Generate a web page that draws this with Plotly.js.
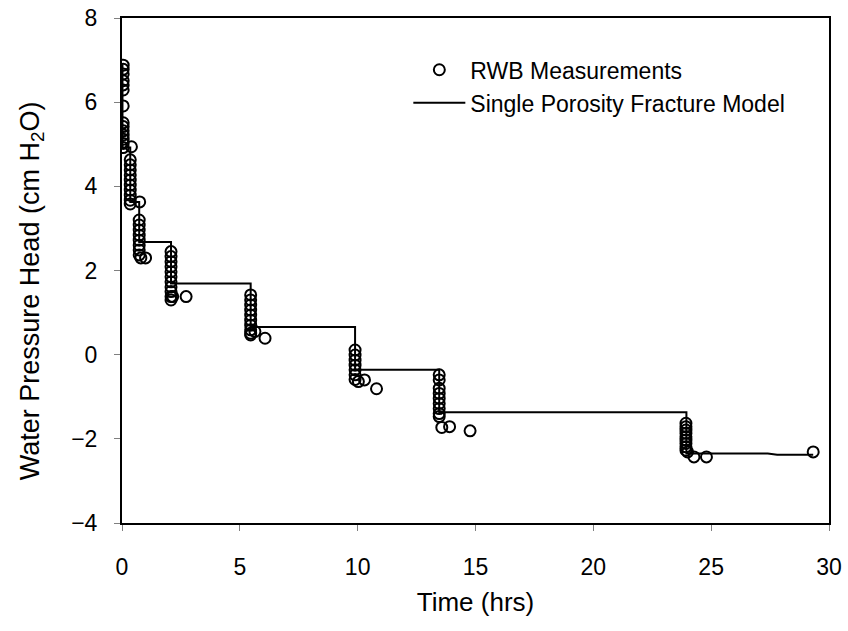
<!DOCTYPE html>
<html>
<head>
<meta charset="utf-8">
<script src="https://cdn.plot.ly/plotly-3.0.1.min.js"></script>
<style>
  html, body { margin: 0; padding: 0; background: #fff; }
  #chart { width: 848px; height: 631px; }
</style>
</head>
<body>
<div id="chart"></div>
<script>
// Measured water pressure head (cm H2O) over time (hrs)
const measTime = [
  0.05, 0.05, 0.05, 0.05, 0.05, 0.05, 0.05, 0.05, 0.05, 0.05, 0.05, 0.05, 0.05, 0.05,
  0.40, 0.35, 0.35, 0.35, 0.35, 0.35, 0.35, 0.35, 0.35, 0.35, 0.35,
  0.75, 0.73, 0.73, 0.73, 0.73, 0.73, 0.73, 0.73, 0.73, 0.80, 1.00,
  2.08, 2.08, 2.08, 2.08, 2.08, 2.08, 2.08, 2.08, 2.08, 2.08, 2.08, 2.15, 2.72,
  5.46, 5.46, 5.46, 5.46, 5.46, 5.46, 5.46, 5.46, 5.46, 5.46, 5.64, 6.07,
  9.89, 9.89, 9.89, 9.89, 9.89, 9.89, 9.89, 10.03, 10.29, 10.80,
  13.46, 13.46, 13.46, 13.46, 13.46, 13.46, 13.46, 13.46, 13.46, 13.57, 13.90, 14.77,
  23.93, 23.93, 23.93, 23.93, 23.93, 23.93, 23.93, 23.93, 23.93, 24.00, 24.27, 24.80, 29.33
];
const measHead = [
  6.88, 6.78, 6.67, 6.51, 6.41, 6.29, 5.91, 5.51, 5.42, 5.32, 5.22, 5.12, 5.02, 4.92,
  4.94, 4.63, 4.51, 4.39, 4.27, 4.15, 4.03, 3.91, 3.79, 3.67, 3.58,
  3.63, 3.20, 3.08, 2.96, 2.84, 2.72, 2.60, 2.49, 2.37, 2.30, 2.30,
  2.45, 2.33, 2.21, 2.09, 1.97, 1.85, 1.73, 1.61, 1.50, 1.38, 1.30, 1.38, 1.38,
  1.42, 1.30, 1.18, 1.06, 0.94, 0.82, 0.70, 0.59, 0.51, 0.47, 0.55, 0.39,
  0.11, -0.01, -0.13, -0.25, -0.36, -0.48, -0.59, -0.64, -0.60, -0.81,
  -0.48, -0.60, -0.80, -0.92, -1.04, -1.16, -1.28, -1.40, -1.47, -1.73, -1.71, -1.81,
  -1.63, -1.71, -1.79, -1.87, -1.95, -2.03, -2.11, -2.19, -2.27, -2.31, -2.43, -2.43, -2.31
];

// Single porosity fracture model (stepped response)
const modelTime = [0.02, 0.02, 0.35, 0.35, 0.73, 0.73, 2.08, 2.08, 5.46, 5.46,
  9.89, 9.89, 13.46, 13.46, 23.95, 23.95, 27.4, 27.8, 29.33];
const modelHead = [6.90, 4.92, 4.92, 3.63, 3.63, 2.68, 2.68, 1.69, 1.69, 0.66,
  0.66, -0.36, -0.36, -1.37, -1.37, -2.35, -2.35, -2.38, -2.38];

const seriesNames = ['RWB Measurements', 'Single Porosity Fracture Model'];
const xTicks = [0, 5, 10, 15, 20, 25, 30];
const yTicks = [-4, -2, 0, 2, 4, 6, 8];
const xTitle = 'Time (hrs)';
const yTitle = 'Water Pressure Head (cm H<sub>2</sub>O)';

const FONT = '"Liberation Sans", Arial, sans-serif';

const traces = [
  {
    x: measTime, y: measHead, name: seriesNames[0],
    type: 'scatter', mode: 'markers',
    marker: { symbol: 'circle-open', size: 11, color: '#000', line: { width: 2, color: '#000' } }
  },
  {
    x: modelTime, y: modelHead, name: seriesNames[1],
    type: 'scatter', mode: 'lines',
    line: { color: '#000', width: 2 }
  }
];

const axisCommon = {
  showline: true, mirror: true, linecolor: '#000', linewidth: 2,
  ticks: 'outside', ticklen: 6, tickwidth: 1, tickcolor: '#808080',
  showgrid: false, zeroline: false,
  tickfont: { family: FONT, size: 23, color: '#000' }
};

const layout = {
  width: 848, height: 631,
  paper_bgcolor: '#fff', plot_bgcolor: '#fff',
  margin: { l: 122, r: 19, t: 18, b: 108 },
  font: { family: FONT, color: '#000' },
  xaxis: Object.assign({}, axisCommon, {
    range: [0, 30], tickvals: xTicks, ticklabelstandoff: 16,
    title: { text: xTitle, font: { family: FONT, size: 26, color: '#000' }, standoff: 14 }
  }),
  yaxis: Object.assign({}, axisCommon, {
    range: [-4, 8], tickvals: yTicks, ticklabelstandoff: 12
  }),
  // vertical axis title, set a little below the plot's centre line
  annotations: [{
    text: yTitle, textangle: -90, showarrow: false,
    xref: 'paper', yref: 'paper', x: -0.128, y: 0.46,
    xanchor: 'center', yanchor: 'middle',
    font: { family: FONT, size: 27, color: '#000' }
  }],
  showlegend: true,
  legend: {
    x: 0.405, y: 0.94, xanchor: 'left', yanchor: 'top',
    bgcolor: 'rgba(0,0,0,0)', borderwidth: 0,
    itemwidth: 52,
    font: { family: FONT, size: 23, color: '#000' }
  }
};

Plotly.newPlot('chart', traces, layout, { staticPlot: true, displayModeBar: false });
</script>
</body>
</html>
